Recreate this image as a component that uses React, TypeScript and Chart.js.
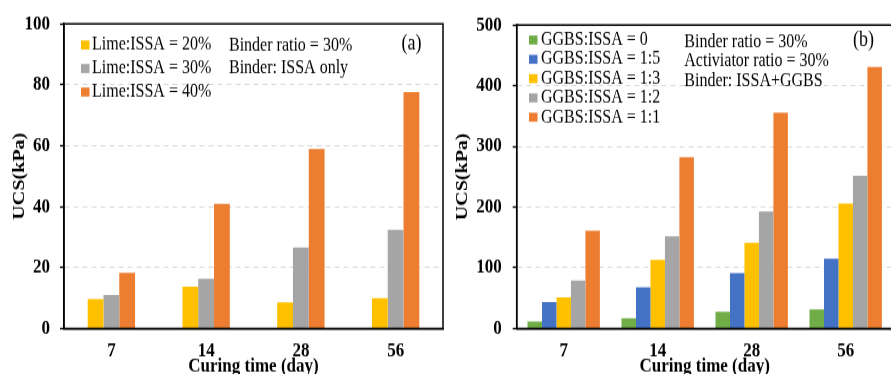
import React, { useEffect, useRef } from 'react';
import { Chart, registerables } from 'chart.js';

Chart.register(...registerables);

// ---------- data ----------
const curingDays = ['7', '14', '28', '56'];

const limeLabels = ['Lime:ISSA = 20%', 'Lime:ISSA = 30%', 'Lime:ISSA = 40%'];
const lime20 = [9.7, 13.7, 8.6, 9.9];
const lime30 = [11.0, 16.3, 26.6, 32.4];
const lime40 = [18.3, 40.9, 58.9, 77.6];

const ggbsLabels = ['GGBS:ISSA = 0', 'GGBS:ISSA = 1:5', 'GGBS:ISSA = 1:3', 'GGBS:ISSA = 1:2', 'GGBS:ISSA = 1:1'];
const ggbs0 = [11.3, 16.7, 27.5, 31.3];
const ggbs15 = [43.6, 67.9, 91.1, 114.8];
const ggbs13 = [51.2, 113.1, 141.2, 205.8];
const ggbs12 = [79.2, 151.9, 192.9, 251.6];
const ggbs11 = [161, 282.3, 355.6, 431];

const leftNotes = ['Binder ratio = 30%', 'Binder: ISSA only'];
const rightNotes = ['Binder ratio = 30%', 'Activiator ratio = 30%', 'Binder: ISSA+GGBS'];
const leftTag = '(a)';
const rightTag = '(b)';
const xTitle = 'Curing time (day)';
const yTitle = 'UCS(kPa)';

const SERIF = '"Liberation Serif", "Times New Roman", serif';

// the reference is slightly stretched vertically; draw compressed and stretch with CSS
const OUT_H = 374;
const IN_H = 317;
const S = OUT_H / IN_H;
const v = (y: number) => y / S;

const framePlugin = {
  id: 'frame',
  afterDraw(chart: any, _args: any, opts: any) {
    const { ctx, chartArea: a } = chart;
    ctx.save();
    ctx.strokeStyle = '#000';
    ctx.lineWidth = 1.5;
    ctx.strokeRect(a.left, a.top, a.right - a.left, a.bottom - a.top);
    ctx.textBaseline = 'middle';
    ctx.textAlign = 'left';
    ctx.font = `16px ${SERIF}`;
    chart.data.datasets.forEach((ds: any, i: number) => {
      const y = opts.legendY + i * opts.legendStep;
      ctx.fillStyle = ds.backgroundColor;
      ctx.fillRect(opts.swatchX, y - v(4.5), 8.5, v(9));
      ctx.fillStyle = '#000';
      ctx.fillText(ds.label, opts.textX, y);
    });
    (opts.notes || []).forEach((t: string, i: number) => {
      ctx.fillText(t, opts.noteX, opts.noteY + i * opts.noteStep);
    });
    ctx.font = `18px ${SERIF}`;
    ctx.fillText(opts.tag, opts.tagX, opts.tagY);
    ctx.restore();
  },
};

function makeOptions(p: any) {
  return {
    animation: false,
    responsive: false,
    layout: { padding: { left: 0, right: p.padRight, top: v(18.7), bottom: 0 } },
    datasets: { bar: { categoryPercentage: p.catPct, barPercentage: 1, borderWidth: 0 } },
    plugins: {
      legend: { display: false },
      tooltip: { enabled: false },
      frame: p.frame,
    },
    scales: {
      x: {
        grid: { display: false, drawTicks: false },
        border: { color: '#000', width: 1.5 },
        ticks: { color: '#000', padding: 9, font: { family: SERIF, size: 17, weight: 'bold', lineHeight: 1.2 } },
        title: {
          display: true,
          text: xTitle,
          color: '#000',
          padding: { top: 0, bottom: 0 },
          font: { family: SERIF, size: 17, weight: 'bold', lineHeight: 0.8 },
        },
        afterFit: (s: any) => {
          s.height = IN_H - v(328.5);
        },
      },
      y: {
        min: 0,
        max: p.max,
        ticks: { stepSize: p.step, color: '#000', padding: p.tickPad, font: { family: SERIF, size: 17, weight: 'bold' } },
        grid: { color: '#d9d9d9', lineWidth: 1, tickColor: '#000', tickLength: 4, tickWidth: 1.4 },
        border: { color: '#000', width: 1.5, dash: [5, 4] },
        title: {
          display: true,
          text: yTitle,
          color: '#000',
          padding: { top: p.yTitlePad, bottom: 0 },
          font: { family: SERIF, size: 17, weight: 'bold', lineHeight: 1 },
        },
        afterFit: (s: any) => {
          s.width = p.yWidth;
        },
      },
    },
  };
}

function Panel(props: { left: number; width: number; config: any }) {
  const ref = useRef<HTMLCanvasElement>(null);
  useEffect(() => {
    if (!ref.current) return;
    const chart = new Chart(ref.current, { ...props.config, plugins: [framePlugin] });
    return () => chart.destroy();
  }, []);
  return (
    <canvas
      ref={ref}
      width={props.width}
      height={IN_H}
      style={{ position: 'absolute', left: props.left, top: 0, width: props.width + 'px', height: OUT_H + 'px', display: 'block' }}
    />
  );
}

export default function App() {
  const leftConfig = {
    type: 'bar',
    data: {
      labels: curingDays,
      datasets: [
        { label: limeLabels[0], data: lime20, backgroundColor: '#FFC000' },
        { label: limeLabels[1], data: lime30, backgroundColor: '#A5A5A5' },
        { label: limeLabels[2], data: lime40, backgroundColor: '#ED7D31' },
      ],
    },
    options: makeOptions({
      padRight: 2,
      catPct: 0.5,
      max: 100,
      step: 20,
      tickPad: 10,
      yTitlePad: 11,
      yWidth: 64,
      frame: {
        legendY: v(45), legendStep: v(23.5), swatchX: 81, textX: 92,
        notes: leftNotes, noteX: 229, noteY: v(45.7), noteStep: v(22),
        tag: leftTag, tagX: 401.5, tagY: v(44.5),
      },
    }),
  };

  const rightConfig = {
    type: 'bar',
    data: {
      labels: curingDays,
      datasets: [
        { label: ggbsLabels[0], data: ggbs0, backgroundColor: '#70AD47' },
        { label: ggbsLabels[1], data: ggbs15, backgroundColor: '#4472C4' },
        { label: ggbsLabels[2], data: ggbs13, backgroundColor: '#FFC000' },
        { label: ggbsLabels[3], data: ggbs12, backgroundColor: '#A5A5A5' },
        { label: ggbsLabels[4], data: ggbs11, backgroundColor: '#ED7D31' },
      ],
    },
    options: makeOptions({
      padRight: 2.3,
      catPct: 0.77,
      max: 500,
      step: 100,
      tickPad: 11,
      yTitlePad: 9.5,
      yWidth: 71.7,
      frame: {
        legendY: v(40), legendStep: v(19.3), swatchX: 84, textX: 96,
        notes: rightNotes, noteX: 239.3, noteY: v(41.7), noteStep: v(20),
        tag: rightTag, tagX: 408, tagY: v(40.5),
      },
    }),
  };

  return (
    <div style={{ position: 'absolute', left: 0, top: 0, width: 891, height: OUT_H, overflow: 'hidden', background: '#fff' }}>
      <Panel left={0} width={445} config={leftConfig} />
      <Panel left={445} width={450} config={rightConfig} />
    </div>
  );
}
